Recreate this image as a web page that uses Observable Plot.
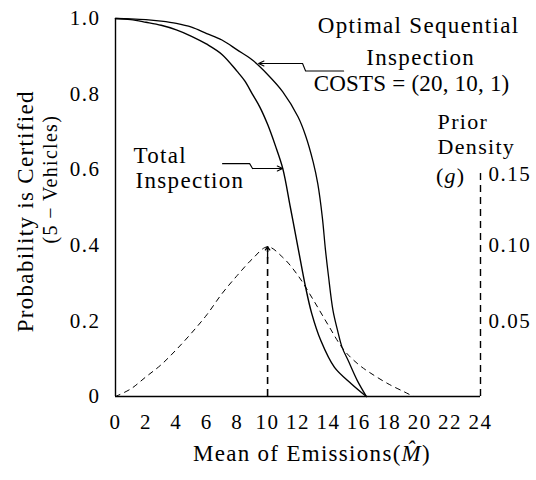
<!DOCTYPE html>
<html><head><meta charset="utf-8">
<script src="https://cdn.jsdelivr.net/npm/d3@7"></script>
<script src="https://cdn.jsdelivr.net/npm/@observablehq/plot@0.6"></script>
<style>body{margin:0;background:#fff;} svg text{font-family:"Liberation Serif", serif;}</style>
</head><body><div id="chart"></div>
<script>
// ---- data ----
const xTicks = [0,2,4,6,8,10,12,14,16,18,20,22,24];
const yTicks = [0,0.2,0.4,0.6,0.8,1.0];
const densityTicks = [0.05,0.10,0.15];
const densityFactor = 4; // right axis: density 0.1 <-> probability 0.4

// Optimal Sequential Inspection (outer curve)
const optimalX = [0,1,2,3,4,5,6,7,8,9,10,11,12,12.5,13,13.3,13.6,13.8,14,14.3,14.6,14.9,15.3,15.9,16.5];
const optimalP = [1.0,0.999,0.997,0.993,0.987,0.977,0.96,0.943,0.917,0.89,0.852,0.806,0.74,0.69,0.62,0.563,0.474,0.39,0.32,0.228,0.175,0.13,0.095,0.042,0];

// Total Inspection (inner curve)
const totalX = [0,1,2,3,4,5,6,7,8,8.5,9,9.5,10,10.5,11,11.5,12,12.3,12.5,12.9,13.5,14.4,15.5,16.5];
const totalP = [1.0,0.997,0.99,0.982,0.97,0.953,0.932,0.905,0.86,0.835,0.80,0.765,0.72,0.665,0.603,0.5,0.394,0.33,0.289,0.22,0.148,0.077,0.034,0];

// Prior density g
const priorX = [0,1,2,3,4,5,6,7,8,9,10,11,12,13,14,15,16,17,18,19,19.6];
const priorG = [0,0.005,0.013,0.021,0.031,0.042,0.054,0.068,0.080,0.091,0.099,0.092,0.080,0.064,0.047,0.031,0.021,0.014,0.008,0.003,0];
const priorPeakX = 10, priorPeakG = 0.099;

// annotation leaders (data coordinates)
const optLeaderX = [15.0,12.5,12.3,9.41];
const optLeaderP = [0.861,0.861,0.881,0.881];
const totLeaderX = [7.04,8.82,9.01,10.99];
const totLeaderP = [0.616,0.616,0.603,0.603];

const optLabel = ["Optimal Sequential","Inspection","COSTS = (20, 10, 1)"];
const optLabelX = [19.93,20.07,19.47];
const optLabelP = [0.981,0.897,0.828];
const totLabel = ["Total","Inspection"];
const totLabelX = [1.18,1.32];
const totLabelP = [0.638,0.571];
const priorLabel = ["Prior","Density"];
const priorLabelX = [21.18,21.18];
const priorLabelP = [0.727,0.66];
const yTitle = ["Probability is Certified","(5\u2009\u2212\u2009Vehicles)"];
const yTitleX = [-5.88,-4.3];
const yTitleP = [0.49,0.575];
const xTitle = "Mean of Emissions(M\u0302)";

// ---- build ----
const zip = (xs, ys) => xs.map((x,i)=>({x, y: ys[i]}));
const optimal = zip(optimalX, optimalP);
const total = zip(totalX, totalP);
const prior = zip(priorX, priorG);
const optLeader = zip(optLeaderX, optLeaderP);
const totLeader = zip(totLeaderX, totLeaderP);
const font = '"Liberation Serif", serif';

const plot = Plot.plot({
  width: 536, height: 480,
  marginLeft: 115, marginRight: 56, marginTop: 18, marginBottom: 84,
  x: {domain: [0,24]},
  y: {domain: [0,1]},
  style: {fontFamily: font, fontSize: "20px", background: "#fff", color: "#000"},
  marks: [
    Plot.axisX({ticks: xTicks, tickSize: 0, tickPadding: 18, label: null, fontSize: 21}),
    Plot.axisY({ticks: yTicks, tickSize: 0, tickPadding: 15, label: null, fontSize: 21,
      tickFormat: d => d === 0 ? "0" : d.toFixed(1)}),
    Plot.ruleX([0], {y1: 0, y2: 1, stroke: "#000", strokeWidth: 1.4}),
    Plot.ruleY([0], {x1: 0, x2: 24, stroke: "#000", strokeWidth: 1.6}),
    // right density axis (dashed)
    Plot.ruleX([24], {y1: 0, y2: densityTicks[2]*densityFactor, stroke: "#000", strokeWidth: 1.4, strokeDasharray: "7,5"}),
    Plot.text(densityTicks.slice(0,2), {x: 24, y: d => d*densityFactor, text: d => d.toFixed(2), dx: 8, textAnchor: "start", fontSize: 21}),
    Plot.text(densityTicks.slice(2), {x: 24, y: d => d*densityFactor, text: d => d.toFixed(2), dx: 8, dy: 5, textAnchor: "start", fontSize: 21}),
    Plot.text(["(g)"], {x: 24, y: densityTicks[2]*densityFactor, dx: -15, dy: 6, textAnchor: "end", fontSize: 22}),
    // prior density
    Plot.line(prior, {x: "x", y: d => d.y*densityFactor, stroke: "#000", strokeWidth: 1, strokeDasharray: "5,5", curve: "catmull-rom"}),
    Plot.ruleX([priorPeakX], {y1: 0, y2: priorPeakG*densityFactor, stroke: "#000", strokeWidth: 1.6, strokeDasharray: "7,5"}),
    Plot.arrow([0], {x1: priorPeakX, x2: priorPeakX, y1: priorPeakG*densityFactor - 0.03, y2: priorPeakG*densityFactor, stroke: "#000", strokeWidth: 1.3, headLength: 9, headAngle: 70}),
    // curves
    Plot.line(optimal, {x: "x", y: "y", stroke: "#000", strokeWidth: 1.3, curve: "catmull-rom"}),
    Plot.line(total, {x: "x", y: "y", stroke: "#000", strokeWidth: 1.4, curve: "catmull-rom"}),
    // leaders
    Plot.line(optLeader.slice(0,3), {x: "x", y: "y", stroke: "#000", strokeWidth: 1.1}),
    Plot.arrow([0], {x1: optLeaderX[2], y1: optLeaderP[2], x2: optLeaderX[3], y2: optLeaderP[3], stroke: "#000", strokeWidth: 1.1, headLength: 8, headAngle: 50}),
    Plot.line(totLeader.slice(0,3), {x: "x", y: "y", stroke: "#000", strokeWidth: 1.1}),
    Plot.arrow([0], {x1: totLeaderX[2], y1: totLeaderP[2], x2: totLeaderX[3], y2: totLeaderP[3], stroke: "#000", strokeWidth: 1.1, headLength: 8, headAngle: 50}),
    // labels
    Plot.text(optLabel, {x: (d,i) => optLabelX[i], y: (d,i) => optLabelP[i], text: d => d, fontSize: 23}),
    Plot.text(totLabel, {x: (d,i) => totLabelX[i], y: (d,i) => totLabelP[i], text: d => d, textAnchor: "start", fontSize: 23}),
    Plot.text(priorLabel, {x: (d,i) => priorLabelX[i], y: (d,i) => priorLabelP[i], text: d => d, textAnchor: "start", fontSize: 22}),
    // axis titles
    Plot.text(yTitle, {x: (d,i) => yTitleX[i], y: (d,i) => yTitleP[i], text: d => d, rotate: -90, textAnchor: "middle", fontSize: (d,i) => i ? 20 : 23}),
    Plot.text([xTitle], {frameAnchor: "bottom", dx: 14, dy: 57, lineAnchor: "middle", textAnchor: "middle", fontSize: 23})
  ]
});
// letter spacing (wide typesetting) and italic glyphs (g), M-hat
d3.select(plot).selectAll("text").each(function() {
  const t = this.textContent;
  let ls = 1.3;
  if (t === "COSTS = (20, 10, 1)") ls = 0.2;
  if (/^[0-9.]+$/.test(t)) ls = 1.5;
  this.style.letterSpacing = ls + "px";
  if (t === "(g)") this.innerHTML = '(<tspan font-style="italic">g</tspan>)';
  if (t === xTitle) this.innerHTML = 'Mean of Emissions(<tspan font-style="italic">M\u0302</tspan>)';
});
document.getElementById("chart").appendChild(plot);
</script>
</body></html>
